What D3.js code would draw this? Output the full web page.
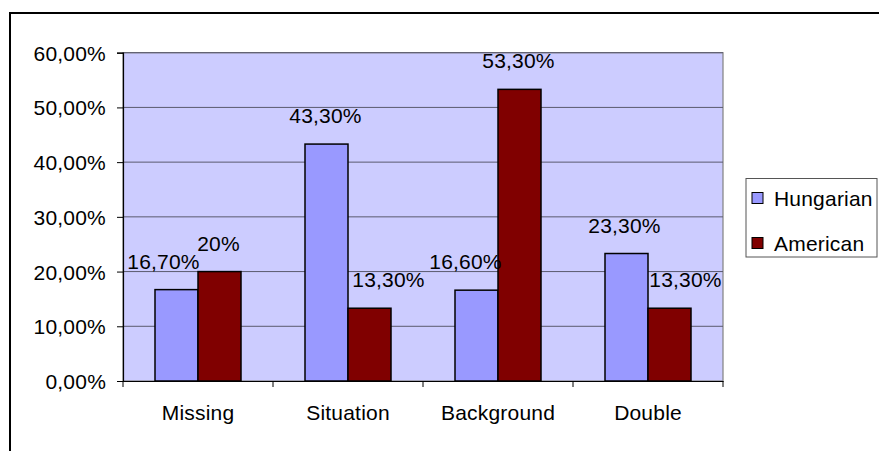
<!DOCTYPE html>
<html>
<head>
<meta charset="utf-8">
<script src="https://cdnjs.cloudflare.com/ajax/libs/d3/7.8.5/d3.min.js"></script>
<style>
  body { margin: 0; background: #fff; }
  svg { display: block; font-family: "Liberation Sans", Arial, sans-serif; }
  text { font-size: 21px; letter-spacing: 0.2px; fill: #000; }
</style>
</head>
<body>
<svg width="879" height="451"></svg>
<script>
var categories = ["Missing", "Situation", "Background", "Double"];
var seriesNames = ["Hungarian", "American"];
var hungarian = [16.7, 43.3, 16.6, 23.3];
var american = [20, 13.3, 53.3, 13.3];
var labelsHungarian = ["16,70%", "43,30%", "16,60%", "23,30%"];
var labelsAmerican = ["20%", "13,30%", "53,30%", "13,30%"];
var yTicks = [0, 10, 20, 30, 40, 50, 60];

document.addEventListener("DOMContentLoaded", function () {

  init();

  function init() {
    var svg = d3.select("svg");
    var colors = { Hungarian: "#9999ff", American: "#800000" };

    // label nudges (px) where the original labels were dragged off centre
    var nudge = {
      Hungarian: [-13, -1, -11, -2],
      American: [-1, 19, -1, 16]
    };

    var left = 123, right = 723, top = 52.7, bottom = 381;

    // outer frame (only top and left edges visible in the original)
    svg.append("rect")
      .attr("x", 10).attr("y", 13)
      .attr("width", 900).attr("height", 500)
      .attr("fill", "none")
      .attr("stroke", "#000")
      .attr("stroke-width", 2);

    var y = d3.scaleLinear().domain([0, 60]).range([bottom, top]);
    var x = d3.scaleBand().domain(categories).range([left, right]).padding(0);
    var bw = x.bandwidth();
    var inner = d3.scaleBand().domain(seriesNames).range([bw / 2 - 43, bw / 2 + 43]);

    // plot background
    svg.append("rect")
      .attr("x", left).attr("y", top)
      .attr("width", right - left).attr("height", bottom - top)
      .attr("fill", "#ccccff")
      .attr("stroke", "#808080")
      .attr("stroke-width", 1.2);

    // gridlines
    svg.append("g")
      .selectAll("line")
      .data(yTicks.slice(1))
      .enter()
      .append("line")
      .attr("x1", left).attr("x2", right)
      .attr("y1", function (d) { return y(d) })
      .attr("y2", function (d) { return y(d) })
      .attr("stroke", "#5a5a6e")
      .attr("stroke-width", 1);

    var rows = [];
    categories.forEach(function (c, i) {
      rows.push({ cat: c, s: "Hungarian", v: hungarian[i], label: labelsHungarian[i], dx: nudge.Hungarian[i] });
      rows.push({ cat: c, s: "American", v: american[i], label: labelsAmerican[i], dx: nudge.American[i] });
    });

    // bars
    svg.append("g")
      .selectAll("rect")
      .data(rows)
      .enter()
      .append("rect")
      .attr("x", function (d) { return x(d.cat) + inner(d.s) })
      .attr("y", function (d) { return y(d.v) })
      .attr("width", inner.bandwidth())
      .attr("height", function (d) { return y(0) - y(d.v) })
      .attr("fill", function (d) { return colors[d.s] })
      .attr("stroke", "#000")
      .attr("stroke-width", 1.5);

    // value labels
    svg.append("g")
      .selectAll("text")
      .data(rows)
      .enter()
      .append("text")
      .attr("x", function (d) { return x(d.cat) + inner(d.s) + inner.bandwidth() / 2 + d.dx })
      .attr("y", function (d) { return y(d.v) - 21 })
      .style("text-anchor", "middle")
      .text(function (d) { return d.label });

    // y axis
    var yAxis = d3.axisLeft(y)
      .tickValues(yTicks)
      .tickSize(6)
      .tickPadding(11)
      .tickFormat(function (d) { return d3.format(".2f")(d).replace(".", ",") + "%" });
    var gy = svg.append("g")
      .attr("transform", "translate(" + left + ",0)")
      .call(yAxis);
    gy.select(".domain").attr("stroke", "#000").attr("stroke-width", 1.2);
    gy.selectAll(".tick line").attr("stroke", "#000");
    gy.selectAll("text").attr("font-size", null).attr("font-family", null).attr("dy", "0.36em");

    // x axis
    var xAxis = d3.axisBottom(x).tickSize(0).tickPadding(24);
    var gx = svg.append("g")
      .attr("transform", "translate(0," + bottom + ")")
      .call(xAxis);
    gx.select(".domain").attr("stroke", "#000").attr("stroke-width", 1.2);
    gx.selectAll("text").attr("font-size", null).attr("font-family", null);
    gx.append("g")
      .selectAll("line")
      .data(categories.concat([null]))
      .enter()
      .append("line")
      .attr("x1", function (d, i) { return left + i * bw })
      .attr("x2", function (d, i) { return left + i * bw })
      .attr("y1", 0).attr("y2", 6)
      .attr("stroke", "#000");

    // legend
    var lg = svg.append("g");
    lg.append("rect")
      .attr("x", 746).attr("y", 178.5)
      .attr("width", 131).attr("height", 78.5)
      .attr("fill", "#fff")
      .attr("stroke", "#555")
      .attr("stroke-width", 1);
    var items = lg.selectAll("g")
      .data(seriesNames)
      .enter()
      .append("g")
      .attr("transform", function (d, i) { return "translate(752," + (192.5 + i * 45) + ")" });
    items.append("rect")
      .attr("width", 11).attr("height", 11)
      .attr("fill", function (d) { return colors[d] })
      .attr("stroke", "#000")
      .attr("stroke-width", 1);
    items.append("text")
      .attr("x", 22).attr("y", 13)
      .text(function (d) { return d });
  }

});
</script>
</body>
</html>
